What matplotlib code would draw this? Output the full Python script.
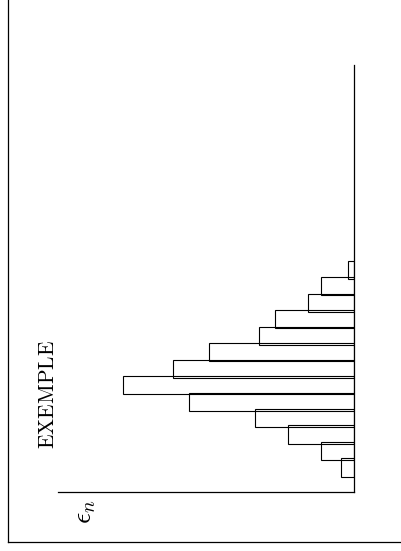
import numpy as np
import matplotlib
matplotlib.use("Agg")
import matplotlib.pyplot as plt
from matplotlib.lines import Line2D

plt.rcParams['mathtext.fontset'] = 'cm'

# histogram counts, listed from the bottom bar to the top bar
bins   = np.arange(1, 14)
counts = [4, 10, 20, 30, 50, 70, 55, 44, 29, 24, 14, 10, 2]

title  = r'$\mathrm{EXEMPLE}$'
xlabel = r'$\epsilon_n$'

fig = plt.figure(figsize=(4.01, 5.51), dpi=100)
ax = fig.add_axes([0.1446, 0.1065, 0.739, 0.7755])

ax.barh(bins + 0.5, counts, height=1.11, fill=False, edgecolor='black', linewidth=0.8)
ax.set_xlim(89.7, 0)
ax.set_ylim(0, 25.93)

for s in ['left', 'top']:
    ax.spines[s].set_visible(False)
for s in ['right', 'bottom']:
    ax.spines[s].set_linewidth(0.9)
ax.set_xticks([])
ax.set_yticks([])

fig.text(0.1197, 0.285, title, rotation=90, rotation_mode='anchor',
         ha='center', va='center', fontsize=15.5)
fig.text(0.2095, 0.0708, xlabel, rotation=90, rotation_mode='anchor',
         ha='center', va='center', fontsize=20)

# frame around the picture (left and bottom only)
fig.add_artist(Line2D([8 / 401, 8 / 401], [1, 1 - 542 / 551], transform=fig.transFigure, color='black', lw=0.9))
fig.add_artist(Line2D([8 / 401, 1], [1 - 542 / 551, 1 - 542 / 551], transform=fig.transFigure, color='black', lw=0.9))

fig.savefig("out.png", dpi=100)
